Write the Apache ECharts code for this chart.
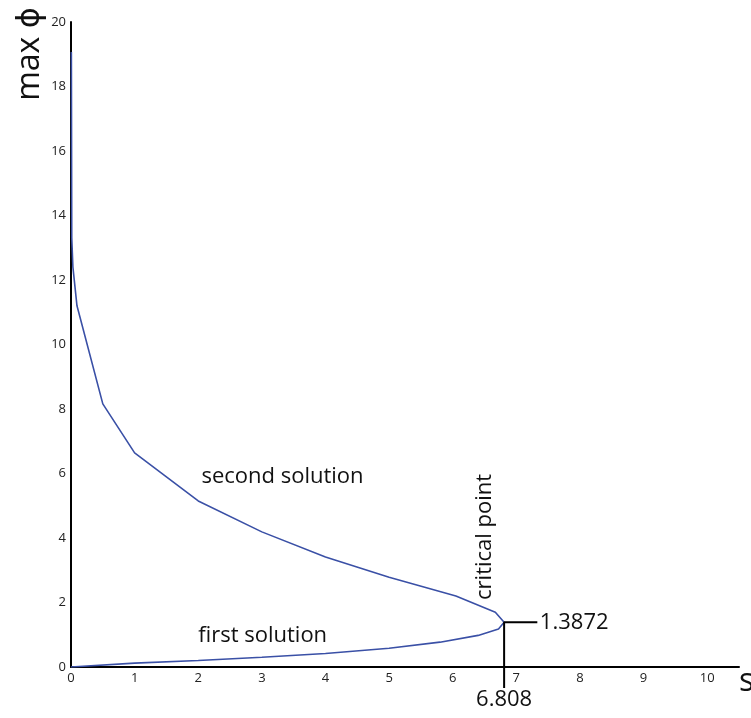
<!DOCTYPE html>
<html>
<head>
<meta charset="utf-8">
<script src="https://cdn.jsdelivr.net/npm/echarts@6/dist/echarts.min.js"></script>
<style>
  html, body { margin: 0; padding: 0; background: #fff; }
  #chart { width: 751px; height: 718px; }
</style>
</head>
<body>
<div id="chart"></div>
<script>
// branch: [s, max phi]
const firstSolution = [
  [0, 0], [1, 0.12], [2, 0.2], [3, 0.3], [4, 0.42], [5, 0.58],
  [5.8, 0.77], [6.4, 0.98], [6.72, 1.18], [6.808, 1.3872]
]
const secondSolution = [
  [6.808, 1.3872], [6.67, 1.7], [6.05, 2.2], [5, 2.78], [4, 3.41],
  [3, 4.19], [2, 5.15], [1, 6.64], [0.5, 8.16], [0.094, 11.2],
  [0.03, 12.4], [0.012, 13.3], [0.006, 19.07]
]
const criticalS = 6.808
const criticalPhi = 1.3872
// guide lines to the critical point
const criticalGuide = [[criticalS, -0.65], [criticalS, criticalPhi], [7.33, criticalPhi]]

const font = '"Open Sans", "DejaVu Sans", sans-serif'
const blue = '#3a50a6'

const chart = echarts.init(document.getElementById('chart'))

const option = {
  animation: false,
  grid: { left: 71, right: 12, top: 22, bottom: 51 },
  xAxis: {
    type: 'value',
    min: 0,
    max: 10.5,
    interval: 1,
    axisLine: { onZero: false, lineStyle: { color: '#000', width: 2 } },
    axisTick: { show: false },
    splitLine: { show: false },
    axisLabel: {
      showMaxLabel: false,
      margin: 5,
      color: '#222',
      fontSize: 13,
      fontFamily: font
    }
  },
  yAxis: {
    type: 'value',
    min: 0,
    max: 20,
    interval: 2,
    axisLine: { show: true, lineStyle: { color: '#000', width: 2 } },
    axisTick: { show: false },
    splitLine: { show: false },
    axisLabel: {
      margin: 5,
      color: '#222',
      fontSize: 13,
      fontFamily: font
    }
  },
  series: [
    {
      name: 'first solution',
      type: 'line',
      data: firstSolution,
      showSymbol: false,
      lineStyle: { color: blue, width: 1.6 }
    },
    {
      name: 'second solution',
      type: 'line',
      data: secondSolution,
      showSymbol: false,
      lineStyle: { color: blue, width: 1.6 }
    },
    {
      name: 'critical',
      type: 'line',
      data: criticalGuide,
      clip: false,
      showSymbol: false,
      lineStyle: { color: '#000', width: 2 },
      z: 3
    }
  ]
}
chart.setOption(option)

// annotations placed through the axes
const px = (x, y) => chart.convertToPixel({ gridIndex: 0 }, [x, y])
const txt = (pos, text, size, extra, align) => Object.assign({
  type: 'text',
  x: pos[0],
  y: pos[1],
  style: {
    text: text,
    fill: '#111',
    font: size + 'px ' + font,
    textAlign: align || 'left',
    textVerticalAlign: 'middle'
  }
}, extra || {})

const pSecond = px(2.05, 5.9)
const pFirst = px(2.0, 0.97)
const pCrit = px(6.51, 2.08)
const pPhi = px(7.37, criticalPhi)
const pS = px(criticalS, -1.02)

chart.setOption({
  graphic: [
    txt(pSecond, 'second solution', 22),
    txt(pFirst, 'first solution', 22),
    txt(pCrit, 'critical point', 22, { rotation: Math.PI / 2 }),
    txt(pPhi, '1.3872', 22),
    txt(pS, '6.808', 22, null, 'center'),
    txt([30, 54], 'max ϕ', 32, { rotation: Math.PI / 2 }, 'center'),
    txt([739, 682], 's', 32)
  ]
})
</script>
</body>
</html>
